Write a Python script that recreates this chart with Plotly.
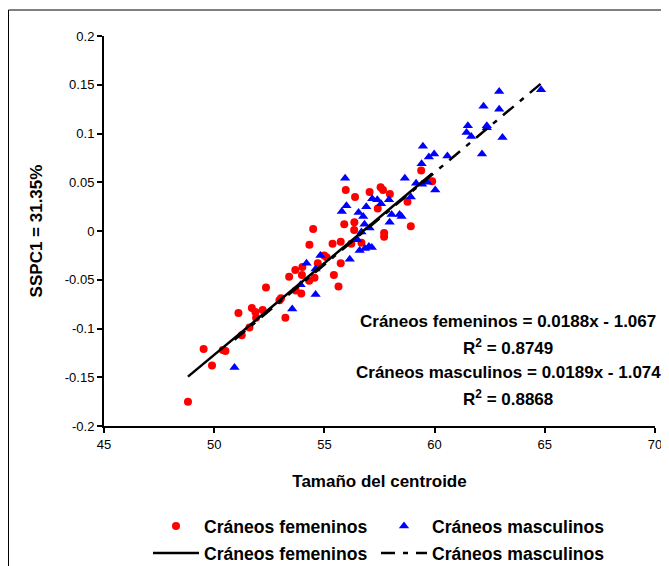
import plotly.graph_objects as go

# Female skulls (Cráneos femeninos)
fem_x = [48.81, 49.52, 49.90, 50.39, 50.51, 51.10, 51.25, 51.60, 51.71, 51.87,
         51.90, 52.20, 52.35, 52.96, 53.03, 53.23, 53.40, 53.68, 53.70, 53.95,
         53.98, 54.00, 54.31, 54.55, 54.32, 54.49, 54.70, 54.99, 55.10, 55.37,
         55.43, 55.64, 55.74, 55.74, 55.90, 55.97, 56.22, 56.35, 56.36, 56.39,
         56.68, 57.05, 57.42, 57.55, 57.66, 57.71, 57.71, 57.97, 58.77, 58.92,
         59.39, 59.89]
fem_y = [-0.175, -0.121, -0.138, -0.122, -0.123, -0.084, -0.107, -0.099, -0.079, -0.083,
         -0.089, -0.081, -0.058, -0.071, -0.069, -0.089, -0.047, -0.040, -0.061, -0.064,
         -0.045, -0.037, -0.051, -0.048, -0.014, 0.002, -0.033, -0.025, -0.027, -0.013,
         -0.045, -0.057, -0.011, -0.033, 0.007, 0.042, -0.013, 0.001, 0.009, 0.035,
         -0.012, 0.040, 0.023, 0.045, 0.042, -0.002, -0.006, 0.038, 0.030, 0.005,
         0.062, 0.051]

# Male skulls (Cráneos masculinos)
mas_x = [50.92, 53.54, 54.60, 53.92, 54.19, 54.60, 54.82, 56.15, 56.00, 55.79,
         56.55, 56.76, 56.82, 56.68, 56.50, 56.60, 56.84, 55.94, 57.17, 57.40,
         57.57, 57.93, 56.90, 58.05, 58.41, 58.50, 57.96, 58.92, 58.65, 59.47,
         59.41, 59.74, 59.98, 59.16, 59.43, 59.67, 60.03, 57.02, 57.15, 57.05,
         60.58, 62.15, 63.08, 61.51, 61.45, 61.66, 62.37, 62.37, 62.22, 62.93,
         62.93, 64.83]
mas_y = [-0.140, -0.080, -0.065, -0.055, -0.033, -0.039, -0.025, -0.029, 0.026, 0.020,
         0.019, 0.015, 0.007, -0.001, -0.009, -0.020, -0.018, 0.054, 0.033, 0.032,
         0.028, 0.032, 0.025, 0.017, 0.017, 0.015, 0.009, 0.035, 0.054, 0.087,
         0.069, 0.076, 0.079, 0.049, 0.048, 0.050, 0.042, -0.016, -0.017, 0.003,
         0.077, 0.079, 0.096, 0.108, 0.101, 0.097, 0.108, 0.106, 0.128, 0.125,
         0.143, 0.145]

# Trend line coefficients (as printed on the chart)
fem_slope, fem_intercept, fem_r2 = 0.0188, -1.067, 0.8749
mas_slope, mas_intercept, mas_r2 = 0.0189, -1.074, 0.8868

x_ticks = [45, 50, 55, 60, 65, 70]
y_ticks = [0.2, 0.15, 0.1, 0.05, 0, -0.05, -0.1, -0.15, -0.2]
y_tick_labels = ["0.2", "0.15", "0.1", "0.05", "0", "-0.05", "-0.1", "-0.15", "-0.2"]

FONT = "Arial, 'Liberation Sans', sans-serif"

fem_lx = [min(fem_x), max(fem_x)]
fem_ly = [fem_slope * v + fem_intercept for v in fem_lx]
mas_lx = [min(mas_x), max(mas_x)]
mas_ly = [mas_slope * v + mas_intercept for v in mas_lx]

fig = go.Figure()
fig.add_trace(go.Scatter(x=fem_x, y=fem_y, mode="markers", name="<b>Cráneos femeninos</b>",
                         marker=dict(symbol="circle", size=8, color="#FF0000"),
                         legend="legend"))
fig.add_trace(go.Scatter(x=mas_x, y=mas_y, mode="markers", name="<b>Cráneos masculinos</b>",
                         marker=dict(symbol="triangle-up", size=9, color="#0000FF"),
                         legend="legend"))
fig.add_trace(go.Scatter(x=fem_lx, y=fem_ly, mode="lines", name="<b>Cráneos femeninos</b>",
                         line=dict(color="black", width=2.5), legend="legend2"))
fig.add_trace(go.Scatter(x=mas_lx, y=mas_ly, mode="lines", name="<b>Cráneos masculinos</b>",
                         line=dict(color="black", width=2.5, dash="14px,8px,5px,8px"),
                         legend="legend2"))

# Figure is placed at an 8px page offset, so work in figure-local pixels
W, H = 661, 558
L, R, T, B = 96, 14, 28, 140
PW = W - L - R          # plot width
PH = H - T - B          # plot height
BOTTOM = T + PH         # local y of plot bottom


def px_x(local_x):
    return (local_x - L) / PW


def px_y(local_y):
    return (BOTTOM - local_y) / PH


ann_font = dict(family=FONT, size=17, color="black")
ann_texts = [
    "<b>Cráneos femeninos = 0.0188x - 1.067</b>",
    "<b>R<sup>2</sup> = %.4f</b>" % fem_r2,
    "<b>Cráneos masculinos = 0.0189x - 1.074</b>",
    "<b>R<sup>2</sup> = %.4f</b>" % mas_r2,
]
ann_local_ys = [313, 339, 364, 390]
annotations = [dict(text=t, x=px_x(500), y=px_y(yy), xref="paper", yref="paper",
                    xanchor="center", yanchor="middle", showarrow=False, font=ann_font)
               for t, yy in zip(ann_texts, ann_local_ys)]

legend_common = dict(orientation="h", xanchor="left", yanchor="middle",
                     font=dict(family=FONT, size=17.6, color="black"),
                     bgcolor="rgba(0,0,0,0)", entrywidth=167, itemwidth=46,
                     tracegroupgap=0)

fig.update_layout(
    width=W, height=H,
    margin=dict(l=L, r=R, t=T, b=B, autoexpand=False),
    paper_bgcolor="white", plot_bgcolor="white",
    font=dict(family=FONT, size=13, color="black"),
    showlegend=True,
    legend=dict(x=px_x(140), y=px_y(518), **legend_common),
    legend2=dict(x=px_x(140), y=px_y(545), **legend_common),
    annotations=annotations,
    shapes=[dict(type="rect", xref="paper", yref="paper",
                 x0=px_x(0.5), x1=px_x(720),
                 y0=px_y(620), y1=px_y(2),
                 line=dict(color="black", width=1), fillcolor="rgba(0,0,0,0)",
                 layer="below")],
)
fig.update_xaxes(range=[45, 70], tickvals=x_ticks, showgrid=False, zeroline=False,
                 showline=True, linecolor="black", linewidth=2,
                 ticks="outside", ticklen=5, tickwidth=2, tickcolor="black",
                 tickfont=dict(family=FONT, size=13, color="black"),
                 title=dict(text="<b>Tamaño del centroide</b>",
                            font=dict(family=FONT, size=17, color="black"), standoff=25))
fig.update_yaxes(range=[-0.2, 0.2], tickvals=y_ticks, ticktext=y_tick_labels,
                 showgrid=False, zeroline=False,
                 showline=True, linecolor="black", linewidth=2,
                 ticks="outside", ticklen=5, tickwidth=2, tickcolor="black",
                 tickfont=dict(family=FONT, size=13, color="black"),
                 title=dict(text="<b>SSPC1 = 31.35%</b>",
                            font=dict(family=FONT, size=17, color="black"), standoff=18))

fig.write_html("out.html")
